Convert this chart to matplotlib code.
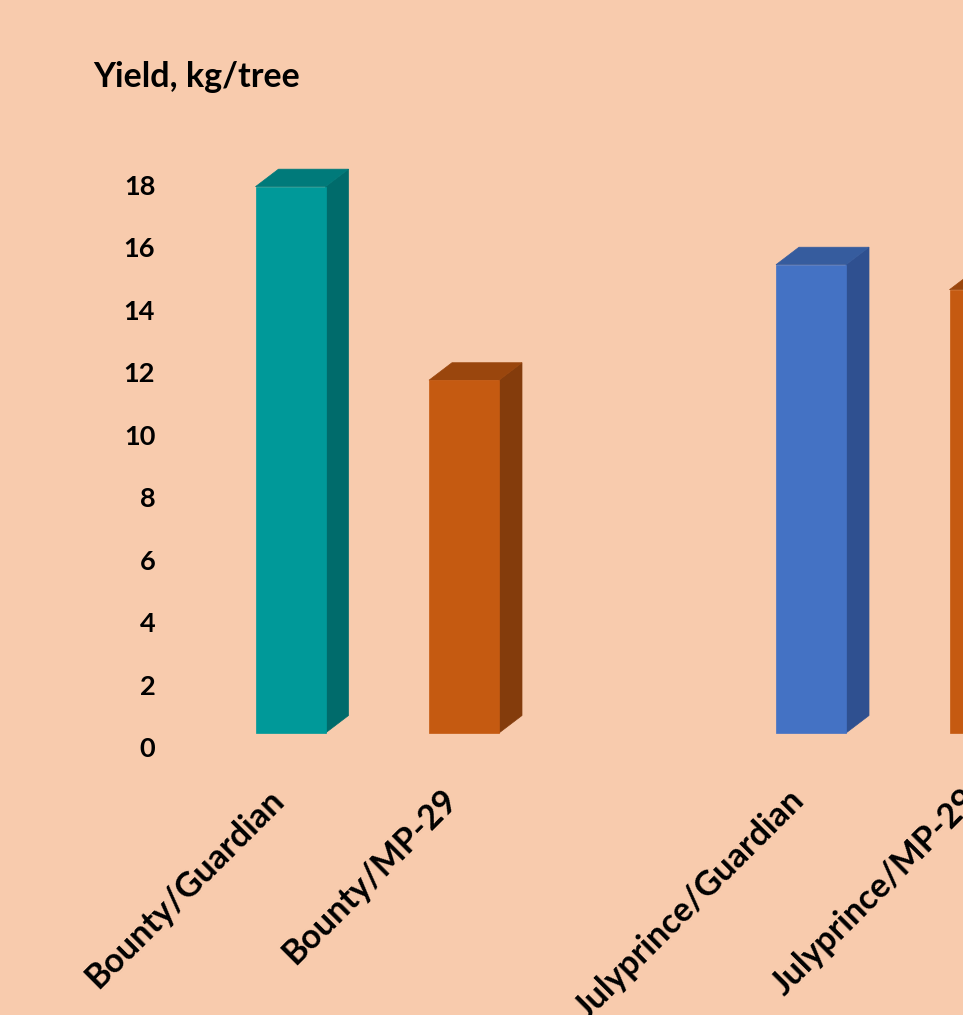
import matplotlib
matplotlib.use("Agg")
import matplotlib.pyplot as plt
from matplotlib.patches import Polygon
from matplotlib.transforms import ScaledTranslation

# Yield per tree for each scion/rootstock combination
categories = ["Bounty/Guardian", "Bounty/MP-29", "Julyprince/Guardian", "Julyprince/MP-29"]
positions = [0, 1, 3, 4]
yields = [17.5, 11.3, 15.0, 14.2]
yticks = [0, 2, 4, 6, 8, 10, 12, 14, 16, 18]

# front, side, top shades for each column
front_colors = ["#009999", "#C55A11", "#4472C4", "#C55A11"]
side_colors = ["#006B6B", "#843C0C", "#2F5090", "#843C0C"]
top_colors = ["#007A7A", "#9A460D", "#365C9E", "#9A460D"]

BG = "#F8CBAD"
FONT = ["Lato", "DejaVu Sans"]
plt.rcParams["font.family"] = FONT

W, H, DPI = 963, 1015, 100
fig = plt.figure(figsize=(W / DPI, H / DPI), dpi=DPI, facecolor=BG)

# axes geometry (pixels); the plot area runs past the right edge of the figure
px_left, px_right = 165, 1120
px_bottom, px_top = 733, 150
x_unit = 173.5          # pixels per category step
y_unit = 31.22          # pixels per kg
x0_px = 290.5           # centre of first column

ax = fig.add_axes([px_left / W, 1 - px_bottom / H,
                   (px_right - px_left) / W, (px_bottom - px_top) / H])
ax.set_facecolor(BG)

bar_w = 70 / x_unit
dx = 23 / x_unit        # depth offset, horizontal
dy = 17.5 / y_unit      # depth offset, vertical

for pos, val, fc, sc, tc in zip(positions, yields, front_colors, side_colors, top_colors):
    xl, xr = pos - bar_w / 2, pos + bar_w / 2
    side = Polygon([(xr, 0), (xr + dx, dy), (xr + dx, val + dy), (xr, val)],
                   closed=True, facecolor=sc, edgecolor=sc, lw=0.5, clip_on=False)
    top = Polygon([(xl, val), (xl + dx, val + dy), (xr + dx, val + dy), (xr, val)],
                  closed=True, facecolor=tc, edgecolor=tc, lw=0.5, clip_on=False)
    front = Polygon([(xl, 0), (xl, val), (xr, val), (xr, 0)],
                    closed=True, facecolor=fc, edgecolor=fc, lw=0.5, clip_on=False)
    for p in (side, top, front):
        ax.add_patch(p)

for s in ax.spines.values():
    s.set_visible(False)

ax.set_yticks(yticks)
ax.set_yticklabels([str(t) for t in yticks], fontsize=19.5, fontweight="bold")
ax.tick_params(axis="y", length=0, pad=7)
for lab in ax.get_yticklabels():
    lab.set_transform(lab.get_transform() + ScaledTranslation(0, -14 / DPI, fig.dpi_scale_trans))

ax.set_xticks(positions)
ax.set_xticklabels(categories, fontsize=24.5, fontweight="bold", rotation=45,
                   ha="right", va="center", rotation_mode="anchor")
ax.tick_params(axis="x", length=0, pad=0)
for lab in ax.get_xticklabels():
    lab.set_transform(lab.get_transform() + ScaledTranslation(-12 / DPI, -62 / DPI, fig.dpi_scale_trans))

# limits set after the ticks so they are not widened
ax.set_xlim((px_left - x0_px) / x_unit, (px_right - x0_px) / x_unit)
ax.set_ylim(0, (px_bottom - px_top) / y_unit)

fig.text(93 / W, 1 - 77 / H, "Yield, kg/tree", fontsize=24.5, fontweight="bold",
         ha="left", va="center")

fig.savefig("out.png", dpi=DPI, facecolor=BG)
